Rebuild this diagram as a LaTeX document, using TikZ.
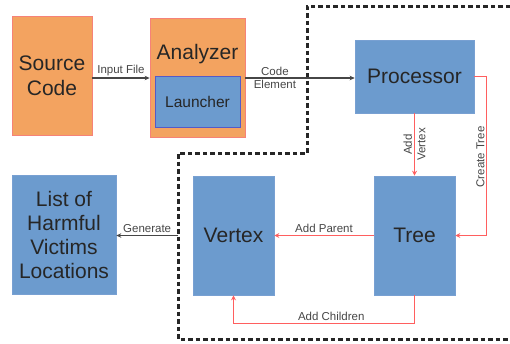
\documentclass[tikz,border=0pt]{standalone}
\usepackage{fontspec}
\setmainfont{Liberation Sans}
\usetikzlibrary{arrows.meta}
\definecolor{boxorange}{RGB}{243,163,96}
\definecolor{orangeedge}{RGB}{246,130,120}
\definecolor{boxblue}{RGB}{108,155,206}
\definecolor{blueedge}{RGB}{120,160,210}
\definecolor{launchedge}{RGB}{85,90,200}
\definecolor{relred}{RGB}{255,95,95}
\definecolor{lblgray}{RGB}{70,70,70}
\tikzset{
  obox/.style={draw=orangeedge, fill=boxorange, line width=0.8pt, inner sep=0pt},
  bbox/.style={draw=blueedge, fill=boxblue, line width=0.6pt, inner sep=0pt, align=center,
    font=\fontsize{21}{24}\selectfont, text=black!85},
  redarrow/.style={draw=relred, line width=1.4pt, -{Stealth[length=5pt,width=5pt]}},
  grayarrow/.style={draw=lblgray, line width=1.1pt, -{Stealth[length=5pt,width=4.5pt]}},
  lbl/.style={font=\fontsize{11.5}{13.5}\selectfont, text=lblgray, inner sep=1pt, align=center},
  boundary/.style={draw=black!85, line width=3pt, dash pattern=on 4.5pt off 3pt}
}
\begin{document}
\begin{tikzpicture}[x=1pt,y=-1pt]
\useasboundingbox (0,0) rectangle (510,343);
% boxes
\node[obox, minimum width=80pt, minimum height=119pt, align=center,
  font=\fontsize{21}{25}\selectfont, text=black!85] (source) at (52,76) {Source\\Code};
\node[obox, minimum width=95pt, minimum height=119pt] (analyzer) at (197.5,77.5) {};
\node[font=\fontsize{21}{24}\selectfont, text=black!85] (antitle) at (197.5,54) {Analyzer};
\node[draw=launchedge, fill=boxblue, line width=0.8pt, minimum width=85pt, minimum height=51pt,
  inner sep=0pt, font=\fontsize{15.5}{18}\selectfont, text=black!85] (launcher) at (197.5,101.5) {Launcher};
\node[bbox, minimum width=119pt, minimum height=73pt] (processor) at (414.5,76.5) {Processor};
\node[bbox, minimum width=81pt, minimum height=119pt] (tree) at (414.5,235.5) {Tree};
\node[bbox, minimum width=81pt, minimum height=119pt] (vertex) at (233.5,235.5) {Vertex};
\node[bbox, minimum width=104pt, minimum height=119pt] (list) at (64,234.5) {List of\\Harmful\\Victims\\Locations};
% dashed boundary
\draw[boundary] (510,6) -- (307,6) -- (307,153) -- (178,153) -- (178,339) -- (510,339);
\coordinate (gen) at (178,235.5);
% connectors
\draw[grayarrow] ([yshift=-2pt]source.east) -- ([yshift=-2pt]source.east -| analyzer.west)
  node[lbl, midway, above=1pt] {Input File};
\draw[grayarrow] ([yshift=-0.5pt]analyzer.east) -- ([yshift=-0.5pt]analyzer.east -| processor.west)
  node[lbl, pos=0.27] {Code\\Element};
\draw[redarrow] (processor.south) -- (tree.north)
  node[lbl, midway, rotate=90] {Add\\Vertex};
\draw[redarrow] (processor.east) -- ++(12,0) |- (tree.east)
  node[lbl, pos=0.25, rotate=90, left=1pt, anchor=south] {Create Tree};
\draw[redarrow] (tree.west) -- (vertex.east)
  node[lbl, midway, above=1pt] {Add Parent};
\draw[redarrow] (tree.south) -- ++(0,28) -| (vertex.south)
  node[lbl, pos=0.23, above=0.5pt] {Add Children};
\draw[grayarrow] (gen) -- (gen -| list.east)
  node[lbl, midway, above=1pt] {Generate};
\end{tikzpicture}
\end{document}
